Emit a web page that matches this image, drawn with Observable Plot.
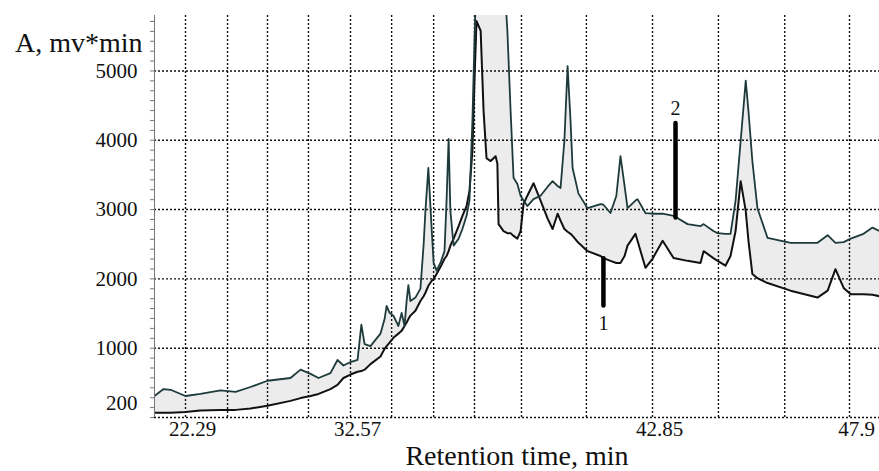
<!DOCTYPE html>
<html><head><meta charset="utf-8">
<script src="https://cdn.jsdelivr.net/npm/d3@7"></script>
<script src="https://cdn.jsdelivr.net/npm/@observablehq/plot@0.6"></script>
<style>body{margin:0;background:#fff} #chart svg{display:block}</style>
</head><body><div id="chart"></div>
<script>
// Retention time (min), common to both traces
const time = [20.36,20.92,21.36,22.29,23.22,24.47,25.41,26.34,27.40,28.83,29.46,30.08,30.58,31.32,31.76,32.13,32.57,32.81,32.94,33.05,33.25,33.59,33.73,33.80,33.90,34.03,34.20,34.31,34.41,34.48,34.54,34.61,34.78,34.95,35.06,35.12,35.22,35.33,35.40,35.50,35.63,35.77,35.84,35.91,35.97,36.08,36.25,36.38,36.52,36.62,36.72,36.79,36.86,37.00,37.10,37.20,37.34,37.51,37.57,37.61,37.78,37.91,38.02,38.12,38.25,38.36,38.46,38.59,38.80,39.04,39.28,39.45,39.62,39.72,39.85,39.96,40.06,40.13,40.33,40.64,41.08,41.18,41.42,41.62,41.76,41.90,42.00,42.27,42.34,42.61,42.85,43.11,43.39,43.75,44.08,44.16,44.41,44.52,44.72,44.85,44.98,45.11,45.24,45.31,45.41,45.54,45.80,46.39,47.08,47.34,47.54,47.75,47.93,48.26,48.49,48.67];
// Trace 1 (lower curve), A, mv*min
const signal1 = [70,70,70,80,100,110,110,130,170,240,280,310,340,410,470,570,620,660,670,690,770,880,990,1030,1080,1150,1210,1250,1320,1370,1420,1470,1540,1680,1750,1800,1900,1970,2000,2070,2170,2290,2330,2400,2480,2580,2760,2910,3050,3270,3850,4860,5720,5580,4420,3740,3700,3770,3660,2790,2690,2660,2660,2620,2580,2690,3080,3200,3380,3130,2870,2720,2940,2840,2720,2680,2650,2620,2520,2400,2330,2300,2260,2230,2230,2330,2480,2650,2550,2160,2290,2550,2300,2260,2230,2400,2300,2260,2190,2330,2690,3410,2980,2550,2070,2010,1940,1830,1730,1830,2140,1870,1780,1780,1770,1750];
// Trace 2 (upper curve), A, mv*min
const signal2 = [310,410,400,310,340,390,370,440,530,570,690,630,570,640,830,750,800,830,1340,1060,1030,1210,1420,1610,1510,1470,1320,1510,1320,1680,1910,1680,1730,1860,2500,2980,3600,2740,2230,2120,2230,2400,3130,4020,2980,2480,2580,2720,2910,3130,4280,5430,6500,6500,6500,6500,6500,6500,6500,6500,6500,5580,4420,3460,3370,3200,3130,3050,3150,3200,3330,3410,3340,3310,3990,5070,4280,3600,3230,3020,3080,3070,2950,3200,3770,3340,3020,3130,3150,2950,2940,2940,2910,2790,2760,2790,2690,2660,2650,2650,3130,3990,4860,4420,3700,3020,2590,2520,2520,2630,2520,2530,2580,2650,2740,2690];

const xTickValues = [22.29, 32.57, 42.85, 47.9];
const xGridValues = [22.29, 24.91, 27.40, 29.95, 32.57, 33.97, 35.40, 36.79, 38.39, 40.60, 42.85, 44.54, 46.24, 47.90];
const xBreaks = [20.36, 22.29, 32.57, 42.85, 47.9, 48.67];
const yTickValues = [200, 1000, 2000, 3000, 4000, 5000];
const yGridValues = [0, 1000, 2000, 3000, 4000, 5000];

const markerNames = ["1", "2"];
const markerTime = [41.18, 43.44];
const markerLow = [1610, 2880];
const markerHigh = [2290, 4240];
const markerLabelValue = [1350, 4450];

const rows = time.map((t, i) => ({t, s1: signal1[i], s2: signal2[i]}));
const markers = markerNames.map((name, i) => ({name, t: markerTime[i], low: markerLow[i], high: markerHigh[i], ly: markerLabelValue[i]}));
const minorTicks = d3.range(0, 5800, 1000 / 7);

// The time axis of the figure is stretched piecewise between its labelled times
const warp = d3.scaleLinear().domain(xBreaks).range([154, 185, 350, 652, 849, 879]);

const chart = Plot.plot({
  width: 879,
  height: 471,
  marginLeft: 154,
  marginRight: 0,
  marginTop: 15,
  marginBottom: 54,
  style: {fontFamily: '"Liberation Serif", "Times New Roman", serif', fontSize: "21px", color: "#111", background: "#fff"},
  x: {transform: warp, domain: [154, 879], range: [154, 879], label: null, axis: null},
  y: {domain: [0, 5800], label: null},
  marks: [
    Plot.areaY(rows, {x: "t", y1: "s1", y2: "s2", fill: "#ececec", clip: true}),
    Plot.ruleX(xGridValues, {stroke: "#111", strokeWidth: 1.4, strokeDasharray: "2,2"}),
    Plot.ruleY(yGridValues, {stroke: "#111", strokeWidth: 1.4, strokeDasharray: "2,2"}),
    Plot.line(rows, {x: "t", y: "s1", stroke: "#111", strokeWidth: 2, clip: true}),
    Plot.line(rows, {x: "t", y: "s2", stroke: "#1e3b3b", strokeWidth: 1.8, clip: true}),
    Plot.ruleX(markers, {x: "t", y1: "low", y2: "high", stroke: "#000", strokeWidth: 4.5, strokeLinecap: "round"}),
    Plot.text(markers, {x: "t", y: "ly", text: "name", fontSize: 20}),
    Plot.ruleX([xBreaks[0]], {stroke: "#777", strokeWidth: 1}),
    Plot.axisY({ticks: minorTicks, tickSize: 4, tickFormat: () => "", label: null, stroke: "#777"}),
    Plot.axisY({ticks: yTickValues, tickSize: 0, tickPadding: 17, tickFormat: d => String(d), label: null, fontSize: 21}),
    Plot.text(xTickValues, {x: d => d, text: d => String(d), frameAnchor: "bottom", dy: 18, dx: 7, fontSize: 21}),
    Plot.text(["A, mv*min"], {frameAnchor: "top-left", textAnchor: "end", dx: -12, dy: 17, fontSize: 28}),
    Plot.text(["Retention time, min"], {frameAnchor: "bottom", dy: 47, fontSize: 28})
  ]
});
document.getElementById("chart").appendChild(chart);
</script>
</body></html>
